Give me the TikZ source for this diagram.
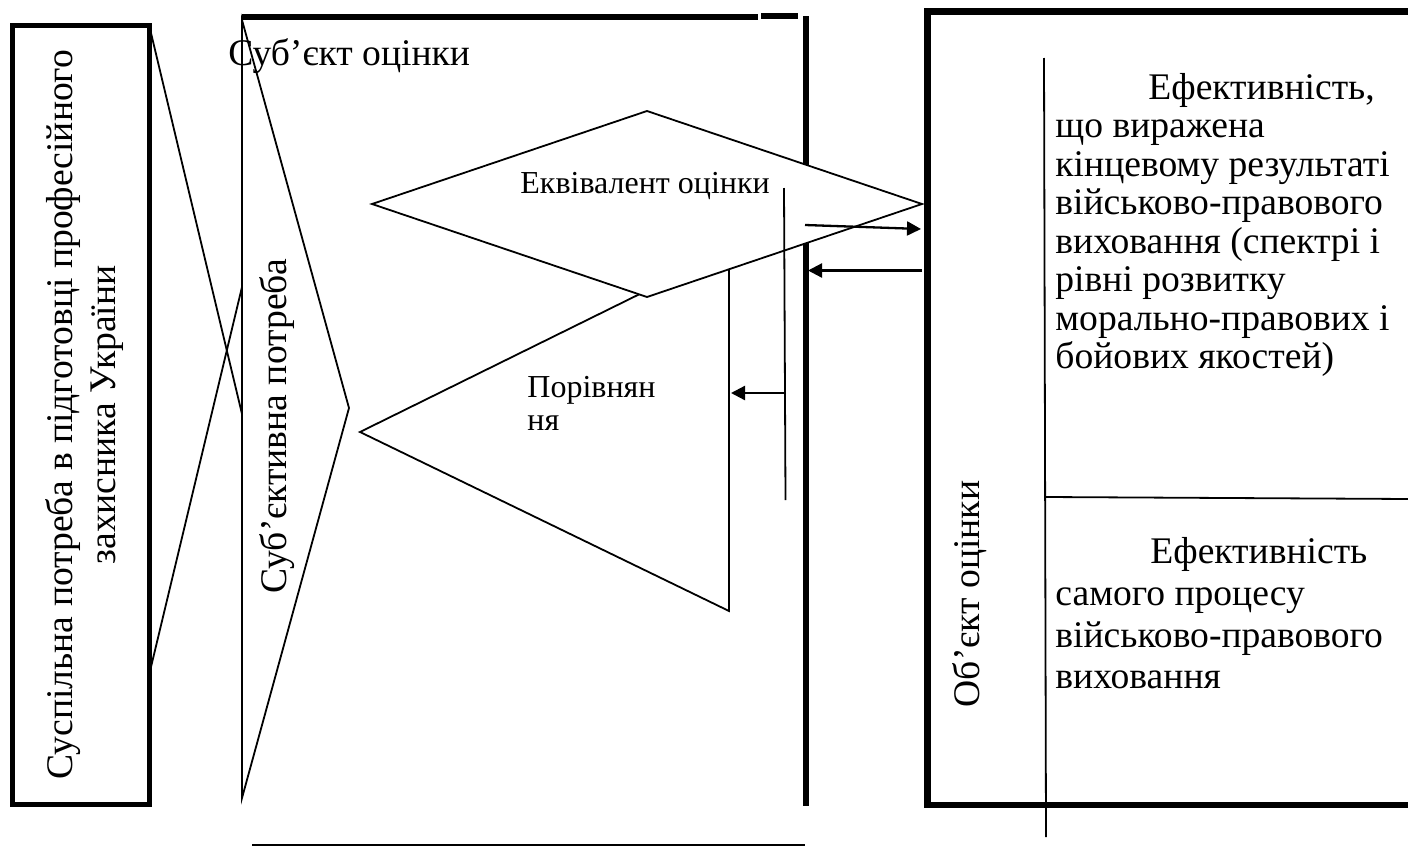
\documentclass[tikz,border=0pt]{standalone}
\usepackage{fontspec}
\setmainfont{Liberation Serif}
\usetikzlibrary{arrows.meta}
\tikzset{
  lboxline/.style={line width=2.75pt},
  midline/.style={line width=3pt},
  rboxline/.style={line width=3.25pt},
  thinline/.style={line width=0.9pt},
  bigtxt/.style={font=\fontsize{18.8}{20}\selectfont, inner sep=0pt},
  smalltxt/.style={font=\fontsize{16}{18}\selectfont, inner sep=0pt},
  arrowline/.style={line width=1.15pt, -{Triangle[length=7pt,width=7pt]}}
}
\begin{document}
\begin{tikzpicture}[x=0.5pt,y=-0.5pt, line join=miter]
\useasboundingbox (0,0) rectangle (1408,846);

% left box
\node[draw, lboxline, inner sep=0pt, minimum width=68.5pt, minimum height=389.5pt] (lbox) at (81,415) {};
\node[bigtxt, rotate=90, anchor=base] (ltxt1) at (72,414.5) {Суспільна потреба в підготовці професійного};
\node[bigtxt, rotate=90, anchor=base] (ltxt2) at (115,415) {захисника України};

% middle frame
\coordinate (mtl) at (242,17);
\coordinate (mtr) at (758,17);
\coordinate (mtl2) at (761,15.5);
\coordinate (mtr2) at (798,15.5);
\coordinate (mvt) at (805.5,16);
\coordinate (mvb) at (805.5,806);
\coordinate (mbl) at (252,845);
\coordinate (mbr) at (805,845);
\draw[midline] (mtl) -- (mtr);
\draw[midline] (mtl2) -- (mtr2);
\draw[midline] (mvt) -- (mvb);
\draw[thinline] (mbl) -- (mbr);

% chevron "subjective need"
\coordinate (cvt) at (242,20);
\coordinate (cvr) at (349,408);
\coordinate (cvb) at (242,798);
\draw[thinline] (cvt) -- (cvr) -- (cvb) -- cycle;

% crossing connectors from the left box
\coordinate (la) at (151,33);
\coordinate (lb) at (242,414);
\coordinate (lc) at (151,667);
\coordinate (ld) at (242,287);
\draw[thinline] (la) -- (lb);
\draw[thinline] (lc) -- (ld);

\node[bigtxt, anchor=base west] (subj) at (228,65) {Суб’єкт оцінки};
\node[bigtxt, rotate=90, anchor=base] (need) at (286,426) {Суб’єктивна потреба};

% comparison triangle
\coordinate (tl) at (360,432);
\coordinate (ttr) at (729,250);
\coordinate (tbr) at (729,611);
\filldraw[thinline, fill=white] (tl) -- (ttr) -- (tbr) -- cycle;

% equivalent diamond
\coordinate (dl) at (372,204);
\coordinate (dt) at (647,111);
\coordinate (dr) at (922,204);
\coordinate (db) at (647,297);
\filldraw[thinline, fill=white] (dl) -- (dt) -- (dr) -- (db) -- cycle;

\node[smalltxt, anchor=base west] (equiv) at (520,193) {Еквівалент оцінки};
\node[smalltxt, anchor=base west] (cmp1) at (527,397) {Порівнян};
\node[smalltxt, anchor=base west] (cmp2) at (527,430) {ня};

% thin vertical line and arrows
\coordinate (vt) at (784,188);
\coordinate (vb) at (785.5,500);
\draw[thinline] (vt) -- (vb);

\coordinate (a1s) at (805,225);
\coordinate (a1e) at (921,229);
\coordinate (a2s) at (922,270.5);
\coordinate (a2e) at (808,270.5);
\coordinate (a3s) at (786,393);
\coordinate (a3e) at (731,393);
\draw[arrowline] (a1s) -- (a1e);
\draw[arrowline] (a2s) -- (a2e);
\draw[arrowline] (a3s) -- (a3e);

% right box
\coordinate (rtr) at (1414,11.5);
\coordinate (rtl) at (927.5,11.5);
\coordinate (rbl) at (927.5,805);
\coordinate (rbr) at (1414,805);
\draw[rboxline] (rtr) -- (rtl) -- (rbl) -- (rbr);

\coordinate (rvt) at (1044,58);
\coordinate (rvb) at (1046,837);
\coordinate (rhl) at (1046,497);
\coordinate (rhr) at (1410,499);
\draw[thinline] (rvt) -- (rvb);
\draw[thinline] (rhl) -- (rhr);

\node[bigtxt, rotate=90, anchor=base] (obj) at (979,594) {Об’єкт оцінки};

\node[bigtxt, anchor=base west] (r1) at (1148,99) {Ефективність,};
\node[bigtxt, anchor=base west] (r2) at (1055,137.5) {що виражена};
\node[bigtxt, anchor=base west] (r3) at (1055,176) {кінцевому результаті};
\node[bigtxt, anchor=base west] (r4) at (1055,214.5) {військово-правового};
\node[bigtxt, anchor=base west] (r5) at (1055,253) {виховання (спектрі і};
\node[bigtxt, anchor=base west] (r6) at (1055,291.5) {рівні розвитку};
\node[bigtxt, anchor=base west] (r7) at (1055,330) {морально-правових і};
\node[bigtxt, anchor=base west] (r8) at (1055,368.5) {бойових якостей)};

\node[bigtxt, anchor=base west] (s1) at (1150,563) {Ефективність};
\node[bigtxt, anchor=base west] (s2) at (1055,605) {самого процесу};
\node[bigtxt, anchor=base west] (s3) at (1055,647) {військово-правового};
\node[bigtxt, anchor=base west] (s4) at (1055,688) {виховання};
\end{tikzpicture}
\end{document}
